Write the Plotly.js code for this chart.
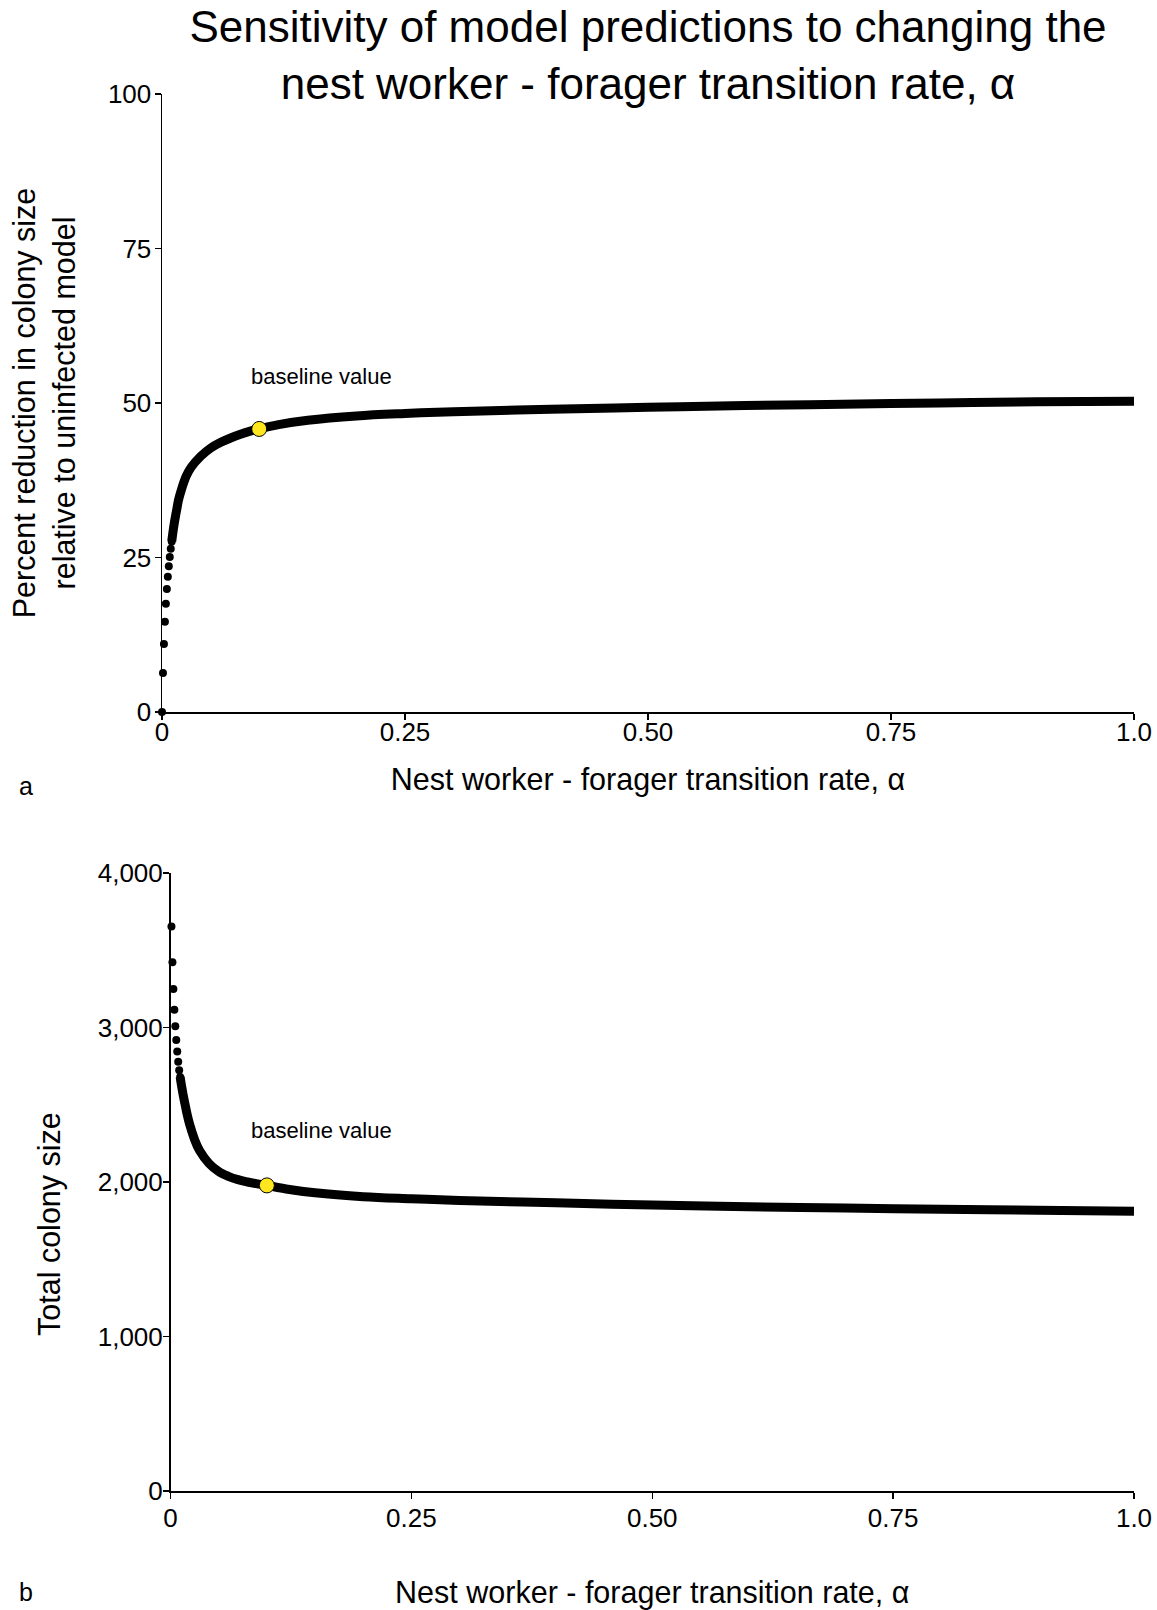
<!DOCTYPE html>
<html>
<head>
<meta charset="utf-8">
<script src="https://cdn.plot.ly/plotly-3.0.1.min.js"></script>
<style>
  html, body { margin: 0; padding: 0; background: #ffffff; }
  #chart { width: 1157px; height: 1610px; }
</style>
</head>
<body>
<div id="chart"></div>
<script>
// Transition rate alpha: isolated points at the steep start of each curve
const alphaTopDots = [0, 0.001, 0.002, 0.003, 0.004, 0.005, 0.006, 0.007, 0.008, 0.009, 0.010];
const reductionDots = [0, 6.3, 11.0, 14.6, 17.5, 19.9, 21.9, 23.6, 25.1, 26.4, 27.6];

// Remainder of panel a (percent reduction in colony size)
const alphaTopCurve = [0.010, 0.011, 0.012, 0.013, 0.014, 0.015, 0.017, 0.020, 0.025, 0.030,
                       0.040, 0.050, 0.060, 0.070, 0.080, 0.090, 0.100, 0.120, 0.150, 0.200,
                       0.250, 0.300, 0.400, 0.500, 0.600, 0.700, 0.800, 0.900, 1.000];
const reductionCurve = [27.6, 28.8, 29.9, 30.9, 31.8, 32.6, 34.3, 36.0, 38.2, 39.6,
                        41.4, 42.7, 43.6, 44.3, 44.9, 45.4, 45.8, 46.5, 47.2, 47.9,
                        48.3, 48.6, 49.0, 49.3, 49.6, 49.8, 50.0, 50.2, 50.3];

// Panel b (total colony size)
const alphaBottomDots = [0.001, 0.002, 0.003, 0.004, 0.005, 0.006, 0.007, 0.008, 0.009, 0.010];
const colonyDots = [3653, 3422, 3249, 3115, 3008, 2919, 2844, 2778, 2724, 2680];

const alphaBottomCurve = [0.010, 0.011, 0.012, 0.013, 0.014, 0.015, 0.017, 0.020, 0.025, 0.030,
                          0.040, 0.050, 0.060, 0.070, 0.080, 0.090, 0.100, 0.120, 0.150, 0.200,
                          0.250, 0.300, 0.400, 0.500, 0.600, 0.700, 0.800, 0.900, 1.000];
const colonyCurve = [2680, 2640, 2603, 2568, 2536, 2506, 2445, 2370, 2275, 2205,
                     2120, 2068, 2037, 2015, 2000, 1988, 1978, 1955, 1930, 1905,
                     1892, 1881, 1865, 1851, 1840, 1831, 1824, 1817, 1810];

// Baseline parameter value
const baselineAlpha = [0.1];
const baselineReduction = [45.8];
const baselineColony = [1978];

// Tick labels
const xTickVals = [0, 0.25, 0.5, 0.75, 1.0];
const xTickText = ['0', '0.25', '0.50', '0.75', '1.0'];
const yTopTickVals = [0, 25, 50, 75, 100];
const yTopTickText = ['0', '25', '50', '75', '100'];
const yBottomTickVals = [0, 1000, 2000, 3000, 4000];
const yBottomTickText = ['0', '1,000', '2,000', '3,000', '4,000'];

const W = 1157, H = 1610;
const FONT = 'Liberation Sans, Arial, Helvetica, sans-serif';
const BLACK = '#000000';
const YELLOW = '#FFE61E';

const dotMarker = { color: BLACK, size: 8 };
const bandLine = { color: BLACK, width: 9, shape: 'spline', smoothing: 1 };
const baseMarker = { color: YELLOW, size: 15, line: { color: BLACK, width: 1 } };

const traces = [
  { x: alphaTopCurve, y: reductionCurve, xaxis: 'x', yaxis: 'y', mode: 'lines',
    line: bandLine, cliponaxis: false, showlegend: false },
  { x: alphaTopDots, y: reductionDots, xaxis: 'x', yaxis: 'y', mode: 'markers',
    marker: dotMarker, cliponaxis: false, showlegend: false },
  { x: baselineAlpha, y: baselineReduction, xaxis: 'x', yaxis: 'y', mode: 'markers',
    marker: baseMarker, cliponaxis: false, showlegend: false },

  { x: alphaBottomCurve, y: colonyCurve, xaxis: 'x2', yaxis: 'y2', mode: 'lines',
    line: bandLine, cliponaxis: false, showlegend: false },
  { x: alphaBottomDots, y: colonyDots, xaxis: 'x2', yaxis: 'y2', mode: 'markers',
    marker: dotMarker, cliponaxis: false, showlegend: false },
  { x: baselineAlpha, y: baselineColony, xaxis: 'x2', yaxis: 'y2', mode: 'markers',
    marker: baseMarker, cliponaxis: false, showlegend: false }
];

// helpers converting pixel positions on the page to paper fractions
const px = v => v / W;
const py = v => 1 - v / H;

const axisCommon = {
  showline: true, linecolor: BLACK, linewidth: 1.5,
  ticks: 'outside', ticklen: 6, tickwidth: 1.5, tickcolor: BLACK,
  showgrid: false, zeroline: false, automargin: false,
  tickfont: { family: FONT, size: 26, color: BLACK },
  tickmode: 'array', fixedrange: true
};

const titleFont = { family: FONT, size: 30.5, color: BLACK };
const xTitleText = 'Nest worker - forager transition rate, α';

const layout = {
  width: W, height: H,
  paper_bgcolor: '#ffffff', plot_bgcolor: '#ffffff',
  margin: { l: 0, r: 0, t: 0, b: 0, autoexpand: false },
  font: { family: FONT, color: BLACK },
  showlegend: false,
  title: {
    text: 'Sensitivity of model predictions to changing the<br>nest worker - forager transition rate, α',
    font: { family: FONT, size: 44, color: BLACK },
    x: px(648), xanchor: 'center', xref: 'paper',
    y: py(42), yanchor: 'top', yref: 'container'
  },
  xaxis: Object.assign({}, axisCommon, {
    domain: [px(162), px(1134)], range: [0, 1], anchor: 'y',
    tickvals: xTickVals, ticktext: xTickText, ticklabelstandoff: -10,
    title: { text: xTitleText, font: titleFont, standoff: 23 }
  }),
  yaxis: Object.assign({}, axisCommon, {
    domain: [py(712), py(94)], range: [0, 100], anchor: 'x',
    tickvals: yTopTickVals, ticktext: yTopTickText, ticklabelstandoff: -2,
    title: { text: 'Percent reduction in colony size<br>relative to uninfected model',
             font: titleFont, standoff: 23 }
  }),
  xaxis2: Object.assign({}, axisCommon, {
    domain: [px(170.5), px(1134)], range: [0, 1], anchor: 'y2',
    tickvals: xTickVals, ticktext: xTickText, ticklabelstandoff: -3,
    title: { text: xTitleText, font: titleFont, standoff: 51 }
  }),
  yaxis2: Object.assign({}, axisCommon, {
    domain: [py(1491), py(873)], range: [0, 4000], anchor: 'x2',
    tickvals: yBottomTickVals, ticktext: yBottomTickText, ticklabelstandoff: -5
  }),
  annotations: [
    { text: 'Total colony size', textangle: -90, xref: 'paper', yref: 'paper',
      x: px(49), y: py(1224), xanchor: 'center', yanchor: 'middle', showarrow: false,
      font: titleFont },
    { text: 'baseline value', xref: 'paper', yref: 'paper',
      x: px(321), y: py(377), xanchor: 'center', yanchor: 'middle', showarrow: false,
      font: { family: FONT, size: 22, color: BLACK } },
    { text: 'baseline value', xref: 'paper', yref: 'paper',
      x: px(321), y: py(1130), xanchor: 'center', yanchor: 'middle', showarrow: false,
      font: { family: FONT, size: 22, color: BLACK } },
    { text: 'a', xref: 'paper', yref: 'paper',
      x: px(26), y: py(786), xanchor: 'center', yanchor: 'middle', showarrow: false,
      font: { family: FONT, size: 25, color: BLACK } },
    { text: 'b', xref: 'paper', yref: 'paper',
      x: px(26), y: py(1592), xanchor: 'center', yanchor: 'middle', showarrow: false,
      font: { family: FONT, size: 25, color: BLACK } }
  ]
};

Plotly.newPlot('chart', traces, layout, { displayModeBar: false, staticPlot: true });
</script>
</body>
</html>
